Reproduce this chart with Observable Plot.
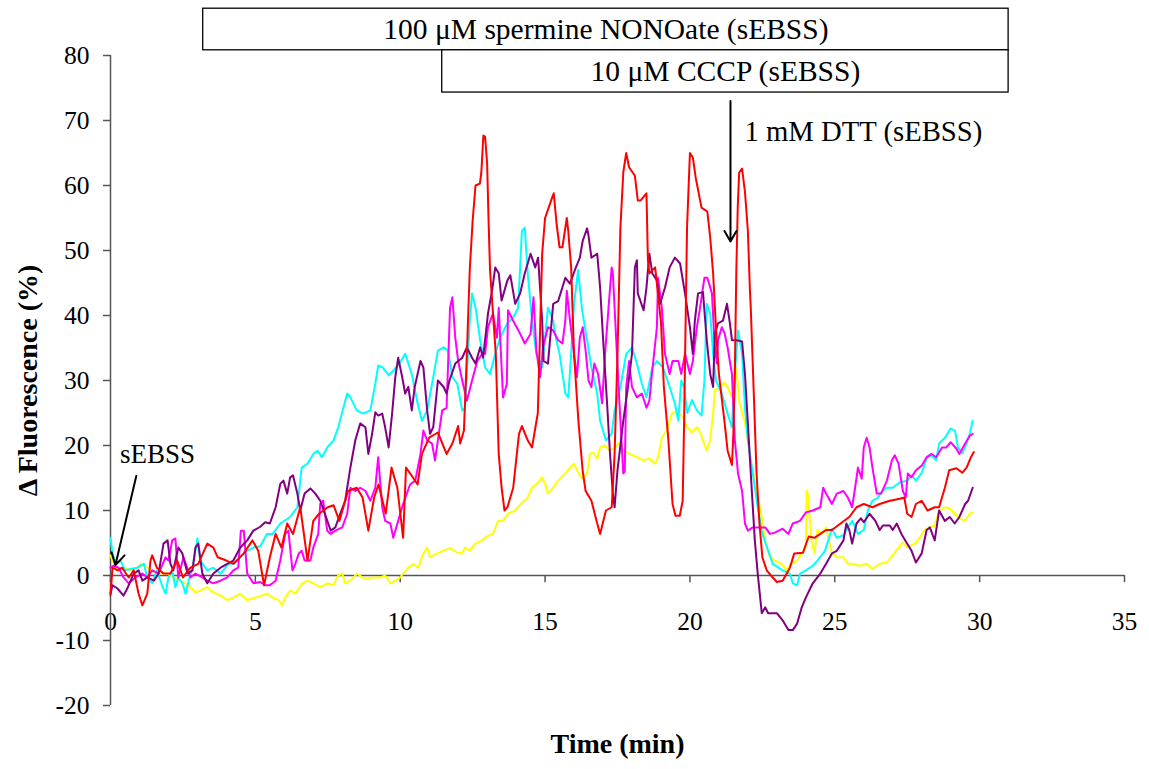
<!DOCTYPE html>
<html>
<head>
<meta charset="utf-8">
<script src="https://cdn.jsdelivr.net/npm/d3@7"></script>
<script src="https://cdn.jsdelivr.net/npm/@observablehq/plot@0.6"></script>
<style>
  html, body { margin: 0; padding: 0; background: #fff; }
  #chart svg { display: block; }
</style>
</head>
<body>
<div id="chart"></div>
<script>
// ---- Data (time in min, Δ fluorescence in %) ----
const red = [[0,-3],[0.07,1.2],[0.25,0.8],[0.4,1.2],[0.63,-0.3],[0.8,0.8],[0.97,-2.8],[1.1,-4.6],[1.27,-2.8],[1.38,2.3],[1.44,3.1],[1.6,1.2],[1.83,0.3],[2.07,0.3],[2.3,2.3],[2.5,-0.3],[2.76,1.2],[3.03,1.8],[3.34,4.9],[3.55,4.3],[3.7,2.8],[4.0,2.3],[4.25,1.8],[4.6,3.4],[4.9,5.4],[5.1,3.8],[5.3,-1.5],[5.5,2.8],[5.7,6.4],[5.9,4.3],[6.1,8],[6.3,6.4],[6.55,10.5],[6.8,2.3],[7.0,8.4],[7.2,9.5],[7.5,10.5],[7.7,10.8],[7.9,8.4],[8.2,13],[8.5,13.5],[8.7,12],[8.9,6.9],[9.1,12],[9.25,14],[9.5,9.5],[9.7,16.6],[9.9,13.5],[10.1,5.8],[10.2,16.6],[10.45,15],[10.6,14],[10.75,18.7],[11.0,21.2],[11.3,22],[11.6,18.7],[11.8,20.3],[12.0,23],[12.07,20.3],[12.2,22.3],[12.3,34],[12.4,47],[12.5,54.6],[12.6,60],[12.75,60.3],[12.8,62],[12.87,67.7],[12.93,67.5],[13.0,63.4],[13.05,54.6],[13.1,47],[13.3,34],[13.4,18.7],[13.5,13.5],[13.6,10],[13.7,10.5],[13.9,13.5],[14.1,21.8],[14.2,23],[14.4,20.8],[14.55,19.7],[14.75,25],[14.9,49.5],[15.0,55],[15.25,58.2],[15.3,58.8],[15.4,54],[15.5,50.5],[15.6,50.5],[15.75,55],[15.8,53],[15.9,47.4],[16.0,34],[16.15,23.8],[16.3,16],[16.4,13],[16.6,11.5],[16.8,8],[16.9,6.4],[17.1,10],[17.3,10.5],[17.4,18.7],[17.5,34],[17.6,53.5],[17.7,62],[17.8,65],[17.9,62.8],[18.1,61.5],[18.2,57.7],[18.3,57.7],[18.5,58.8],[18.55,48.5],[18.6,46.5],[18.8,47.4],[19.0,39],[19.1,29],[19.25,21.2],[19.4,11],[19.5,9.2],[19.65,9.2],[19.75,11.5],[19.8,23.8],[19.9,53.5],[20.0,65],[20.1,64.3],[20.2,61.2],[20.4,56.6],[20.6,56],[20.7,52],[20.8,46.5],[20.9,38],[21.0,31],[21.2,23.4],[21.3,19.2],[21.45,17],[21.5,21.8],[21.55,31],[21.6,46.5],[21.65,56.6],[21.7,62],[21.8,62.6],[21.9,59],[22.0,53],[22.07,44],[22.1,41.2],[22.2,28.5],[22.3,15.7],[22.4,8],[22.5,2.8],[22.65,0.8],[22.8,0],[23.0,-1],[23.2,-0.8],[23.45,1.2],[23.6,3.4],[23.9,3.5],[24.1,6],[24.3,5.8],[24.5,6.4],[24.7,7],[24.9,7],[25.2,8],[25.5,9],[25.75,10.5],[26.0,11],[26.3,10.5],[26.55,11],[26.9,11.5],[27.25,11.8],[27.4,12],[27.5,9.5],[27.65,9],[27.8,11],[28.0,11.5],[28.2,10],[28.45,10.5],[28.6,10.5],[28.8,13.5],[28.95,16.2],[29.2,16.5],[29.4,15.8],[29.55,16.6],[29.7,18.2],[29.8,19]];

const cyan = [[0,5.8],[0.07,3.4],[0.17,1.8],[0.35,2.3],[0.5,0.8],[0.7,1],[0.93,1.2],[1.15,1.8],[1.27,-0.3],[1.44,-1.2],[1.6,0.8],[1.8,-1.8],[1.9,-2.8],[2.0,-0.3],[2.13,0.8],[2.24,-1.8],[2.34,-0.3],[2.48,-1.2],[2.59,-2.8],[2.7,-0.8],[2.86,1.8],[3.0,5.7],[3.1,2.3],[3.34,0.8],[3.55,1.2],[3.8,0.3],[4.07,1.8],[4.25,1.8],[4.48,2.8],[4.72,3.8],[4.93,4.3],[5.17,4.5],[5.4,6.4],[5.6,6.4],[5.86,8],[6.2,9],[6.45,10.5],[6.6,16.6],[6.8,17.2],[7.0,18.7],[7.14,19.2],[7.3,18.2],[7.48,19.7],[7.7,20.8],[7.86,22.8],[8.17,28],[8.28,27.4],[8.5,25.4],[8.72,24.9],[8.97,25.4],[9.14,29.5],[9.24,32.3],[9.4,32],[9.6,30.8],[9.76,31.5],[10.0,32.8],[10.17,34.1],[10.4,31],[10.6,26.5],[10.75,23.8],[10.93,25.4],[11.14,30.5],[11.3,34.6],[11.5,35.1],[11.65,34.6],[11.8,30.5],[11.97,29.5],[12.14,25.4],[12.24,25.8],[12.4,39.2],[12.48,43.4],[12.6,41.2],[12.76,36.2],[12.93,32],[13.1,31],[13.28,34.1],[13.45,36.6],[13.7,38.8],[13.9,39.7],[14.07,41.2],[14.2,53],[14.3,53.5],[14.4,46.5],[14.55,39.2],[14.7,34.1],[14.9,32],[15.0,36.6],[15.1,41.2],[15.28,39.2],[15.4,36],[15.5,34.1],[15.7,28],[15.8,27.4],[15.9,34.1],[16.0,41.8],[16.14,47],[16.28,40.8],[16.45,36.2],[16.6,32],[16.8,28],[16.9,23.8],[17.1,20.8],[17.3,21.8],[17.4,25.4],[17.6,29],[17.8,34.1],[18.0,35.1],[18.17,32.6],[18.34,29.5],[18.5,27.4],[18.7,32],[18.86,33],[19.07,32],[19.3,29],[19.48,26.5],[19.6,23.8],[19.7,30],[19.8,29],[19.9,25],[20.07,27],[20.24,25.4],[20.4,24.6],[20.5,30],[20.58,41.8],[20.7,40.3],[20.8,34.1],[20.9,30],[21.1,28],[21.3,24.9],[21.45,22.8],[21.55,31],[21.66,37.7],[21.8,34.1],[21.9,25.8],[22.0,20.8],[22.17,15.7],[22.34,10.5],[22.5,6.4],[22.7,3.8],[22.86,1.8],[23.2,0.8],[23.45,0.3],[23.55,-1.2],[23.7,-1.5],[23.8,0.3],[24.0,0.8],[24.24,1.5],[24.4,2.3],[24.66,3.8],[24.9,7.2],[25.07,5.8],[25.3,6.2],[25.45,7.4],[25.6,8.4],[25.8,6.4],[26.0,7],[26.14,10],[26.3,11.5],[26.5,12],[26.6,12.8],[26.8,13.5],[27.0,13.5],[27.24,14.3],[27.5,14.6],[27.65,15.4],[27.8,14.6],[28.0,15.8],[28.17,18],[28.34,18.5],[28.5,17.7],[28.6,20.3],[28.8,21.2],[29.0,22.6],[29.15,22.3],[29.25,19.7],[29.4,18.8],[29.55,20.3],[29.66,21.8],[29.76,23.8]];

const purple = [[0,-2.8],[0.07,-1.5],[0.24,-2],[0.45,-3.1],[0.6,-1.8],[0.8,0.3],[0.97,0.8],[1.1,-0.8],[1.27,-0.3],[1.5,-0.8],[1.66,0.3],[1.83,4.9],[1.97,5.4],[2.07,1.8],[2.17,0.8],[2.34,4.3],[2.48,3.4],[2.66,0.3],[2.83,0.8],[2.93,4.3],[3.03,4.9],[3.17,0.3],[3.34,-1.2],[3.55,0.3],[3.8,1.2],[4.03,1.8],[4.24,2.3],[4.48,4.3],[4.72,5.4],[4.93,6.9],[5.17,7.5],[5.34,8.2],[5.5,8],[5.7,10.5],[5.86,14.1],[5.97,14.6],[6.1,12.6],[6.2,15.1],[6.3,15.4],[6.45,12.6],[6.55,10],[6.7,12.6],[6.9,13.4],[7.07,12.6],[7.24,11.5],[7.4,9.5],[7.6,6.9],[7.76,7.4],[7.93,9.5],[8.1,11.5],[8.28,16.6],[8.45,20.8],[8.62,23.4],[8.8,22.8],[8.9,18.7],[9.03,21.8],[9.14,25.1],[9.24,24.6],[9.38,24.9],[9.48,22.8],[9.6,19.7],[9.72,24.9],[9.83,30.5],[9.93,33.5],[10.07,30.5],[10.17,28],[10.28,29],[10.4,25.4],[10.5,29],[10.7,33],[10.8,32],[10.93,25.4],[11.03,21.8],[11.14,22.8],[11.3,30],[11.5,29],[11.6,28],[11.7,30],[11.9,32.6],[12.14,33.5],[12.3,35.1],[12.48,33.5],[12.6,32.6],[12.76,35.1],[12.86,33.5],[13.03,40.3],[13.17,43.8],[13.28,47.4],[13.4,46.5],[13.5,42.3],[13.7,45.4],[13.8,46.2],[13.97,41.8],[14.14,43.4],[14.3,46.5],[14.5,49.5],[14.66,47.4],[14.76,48.9],[14.9,39.2],[14.95,33],[15.1,32.6],[15.28,41.8],[15.45,42.2],[15.7,45.8],[15.86,44.9],[16.03,47],[16.2,48.9],[16.3,51.5],[16.45,53.4],[16.5,52.3],[16.6,48.9],[16.8,49.5],[16.9,44.3],[17.0,36.6],[17.14,26.5],[17.24,18.8],[17.34,12.6],[17.4,10.5],[17.5,16.2],[17.7,23.8],[17.86,29],[18.0,34.1],[18.1,47.4],[18.17,48.5],[18.2,43.4],[18.4,40.8],[18.5,44.3],[18.6,49.5],[18.7,46.5],[18.86,45.4],[18.97,41.8],[19.14,44.3],[19.3,47.4],[19.48,48.9],[19.66,48],[19.83,43.4],[20.0,38.2],[20.1,34.1],[20.17,39.2],[20.28,43.4],[20.45,43.6],[20.58,36.2],[20.7,31],[20.8,29],[20.86,37.2],[20.97,38.8],[21.14,39.2],[21.28,41.8],[21.38,38.8],[21.45,36.2],[21.6,36.2],[21.8,36],[21.9,31],[22.0,23.4],[22.1,15.7],[22.24,5.4],[22.34,0.3],[22.48,-5.8],[22.6,-4.9],[22.7,-5.8],[23.0,-5.8],[23.2,-6.9],[23.4,-8.4],[23.55,-8.4],[23.7,-7.4],[23.86,-4.9],[24.0,-3.4],[24.24,-1.2],[24.5,0.3],[24.7,1.8],[24.9,3.4],[25.07,3.8],[25.3,5.4],[25.4,8],[25.5,7],[25.6,4.9],[25.75,8],[25.9,8.8],[26.0,8.2],[26.2,9.5],[26.4,8.4],[26.55,7],[26.66,7.7],[26.9,7.7],[27.0,7],[27.14,8],[27.3,6.4],[27.5,4.9],[27.65,3.8],[27.8,2],[28.0,3.4],[28.17,7],[28.28,7.4],[28.45,5.4],[28.6,10],[28.8,8.4],[28.97,9],[29.14,8],[29.3,9],[29.5,11],[29.6,11.5],[29.76,13.5]];

const magenta = [[0,1.2],[0.1,1.5],[0.28,1.2],[0.45,-0.3],[0.63,-1.2],[0.86,-0.3],[1.1,0.3],[1.27,-0.3],[1.44,0.8],[1.66,0.3],[1.9,2.8],[2.0,2.3],[2.13,5.4],[2.24,5.7],[2.34,-0.3],[2.52,2.8],[2.76,-0.3],[2.93,0.3],[3.17,-0.3],[3.34,-0.8],[3.55,-1.2],[3.8,-0.8],[4.03,-0.3],[4.24,0.8],[4.41,1.2],[4.5,6.9],[4.6,6.9],[4.72,0.3],[4.93,-1.2],[5.17,-1],[5.34,-1.5],[5.5,-1.5],[5.7,-0.8],[5.86,2.3],[6.03,6.4],[6.14,6.9],[6.28,0.8],[6.38,1.8],[6.5,3.4],[6.6,3.8],[6.7,2.3],[6.9,2.3],[7.0,4.3],[7.17,6.4],[7.24,11],[7.34,11.5],[7.48,6.9],[7.6,6.4],[7.76,6.9],[8.0,7.4],[8.17,9.5],[8.28,13.5],[8.45,13],[8.62,13.5],[8.8,13],[8.97,11.5],[9.14,13.5],[9.24,18.2],[9.38,10.5],[9.48,8.4],[9.66,8],[9.76,5.8],[9.93,8.4],[10.1,11],[10.34,14],[10.52,14.6],[10.7,18.7],[10.8,22.3],[10.93,20.8],[11.1,20.3],[11.2,17.7],[11.3,20.8],[11.45,25.4],[11.6,25.8],[11.72,41.2],[11.8,42.8],[11.9,36.6],[12.0,33],[12.14,30],[12.3,26.9],[12.48,30],[12.66,33],[12.83,34.1],[12.93,34.1],[13.03,38.2],[13.2,40.3],[13.34,36.6],[13.4,41.2],[13.5,32],[13.55,27.4],[13.68,29.5],[13.72,40.8],[13.9,39.2],[14.14,37.2],[14.3,35.7],[14.5,37.2],[14.6,42.8],[14.7,34.6],[14.83,30.5],[14.93,35.1],[15.1,38.2],[15.28,37.7],[15.45,36.2],[15.6,35.7],[15.7,39.2],[15.75,43.8],[15.86,39.2],[16.0,34.1],[16.1,30.5],[16.2,36.6],[16.3,38.2],[16.4,34.6],[16.5,30],[16.6,29],[16.7,32.6],[16.83,31],[16.97,26.5],[17.07,34.1],[17.2,41.8],[17.3,47.4],[17.34,46.5],[17.48,34.1],[17.6,23.8],[17.7,15.7],[17.75,16],[17.8,29],[17.9,33],[18.0,29],[18.17,27.4],[18.34,28],[18.5,25.8],[18.6,26.9],[18.7,31.5],[18.86,38.2],[18.9,45.8],[19.03,41.2],[19.14,34.1],[19.3,31],[19.4,33],[19.6,33],[19.7,31],[19.83,34.1],[20.0,31],[20.1,33],[20.24,38.2],[20.35,41.2],[20.5,45.8],[20.6,45.8],[20.76,43.4],[20.86,35.1],[20.93,32.6],[20.97,36.2],[21.1,38.2],[21.2,37.2],[21.3,35.1],[21.45,31],[21.55,20.8],[21.66,15.7],[21.8,13],[21.9,8],[22.0,6.9],[22.17,7.4],[22.4,7.4],[22.6,7.4],[22.76,6.4],[22.93,6.6],[23.2,7.2],[23.4,6.4],[23.55,8],[23.8,8.4],[24.0,9.7],[24.24,10],[24.5,10.5],[24.6,13.5],[24.7,12.6],[24.9,11],[25.07,12.6],[25.3,13],[25.45,12],[25.6,10.5],[25.75,15],[25.8,16.6],[25.93,14.9],[26.0,19.7],[26.1,21.2],[26.2,19.7],[26.3,16.6],[26.45,12.6],[26.6,12.6],[26.8,14.6],[26.97,17.7],[27.07,18.5],[27.2,17.2],[27.35,13],[27.45,12],[27.52,15.7],[27.65,15.1],[27.8,16.2],[28.0,16.9],[28.17,18.2],[28.34,18.7],[28.5,18.2],[28.7,19.7],[28.85,19.7],[29.0,20.5],[29.2,19.5],[29.3,18.7],[29.5,20.3],[29.66,21.5],[29.76,21.8]];

const yellow = [[0,3.1],[0.07,2.3],[0.24,0.8],[0.45,1.2],[0.7,0.8],[0.93,1.2],[1.03,1.8],[1.27,1.2],[1.5,0.5],[1.72,0.3],[1.97,0.3],[2.17,-0.3],[2.41,-0.8],[2.59,-1.2],[2.76,-1.8],[2.93,-2.6],[3.1,-2.3],[3.34,-1.8],[3.55,-2.6],[3.8,-3.1],[4.03,-3.8],[4.24,-3.4],[4.48,-2.8],[4.72,-3.8],[4.93,-3.5],[5.17,-3.2],[5.4,-2.8],[5.6,-3.4],[5.8,-3.8],[5.93,-4.6],[6.03,-3.4],[6.2,-2.3],[6.38,-2.8],[6.62,-1.2],[6.79,-0.8],[7.0,-1.2],[7.24,-1.8],[7.48,-1.2],[7.69,-1.5],[7.86,0],[8.0,0.3],[8.1,-1.2],[8.28,-0.8],[8.52,0.3],[8.69,-0.3],[8.86,-0.5],[9.07,-0.3],[9.31,-0.3],[9.48,0],[9.66,-1.2],[9.83,-0.8],[10.0,-0.3],[10.1,0.3],[10.28,1.2],[10.45,1.8],[10.62,1.2],[10.8,3.4],[10.93,4.3],[11.03,2.8],[11.28,3.4],[11.48,3.8],[11.72,4.2],[11.97,3.5],[12.14,3.4],[12.24,4.3],[12.4,3.8],[12.59,4.9],[12.83,5.4],[13.03,6.1],[13.2,6.4],[13.38,8.4],[13.55,8.4],[13.72,9.5],[13.97,10],[14.2,11.2],[14.38,11.8],[14.55,13.5],[14.72,14.1],[14.9,15.1],[15.0,14.1],[15.1,12.6],[15.28,13.5],[15.45,14.6],[15.7,15.7],[15.86,16.6],[16.0,17.2],[16.1,16.2],[16.28,14.9],[16.45,15.7],[16.55,18.7],[16.66,18.9],[16.8,18],[16.9,19.7],[17.07,20],[17.24,19.2],[17.4,19.7],[17.6,20.5],[17.7,19.2],[17.93,18.7],[18.17,18.2],[18.38,17.7],[18.6,18],[18.8,17.2],[18.9,18.2],[19.03,21.2],[19.2,22.3],[19.38,24.9],[19.48,25.1],[19.66,24.9],[19.76,24.3],[19.9,22.8],[20.07,22],[20.24,22.8],[20.35,22],[20.45,20.8],[20.58,19.2],[20.7,20.8],[20.8,24.9],[20.86,28.5],[21.0,28.8],[21.2,29.7],[21.3,29],[21.45,27.4],[21.55,30],[21.6,32],[21.7,26.9],[21.9,23.4],[22.0,20.8],[22.1,17.7],[22.3,13],[22.48,9],[22.6,5.4],[22.76,2.8],[22.93,2.3],[23.17,1.8],[23.34,0.8],[23.5,1.8],[23.7,2.3],[23.86,3.4],[24.0,4.3],[24.03,13],[24.07,12.6],[24.2,5.4],[24.3,3.4],[24.4,7],[24.55,6.4],[24.7,7.4],[24.8,5.4],[24.9,3.4],[25.1,2.8],[25.3,2.8],[25.45,1.8],[25.6,1.8],[25.86,1.5],[26.1,1.8],[26.3,1],[26.55,1.8],[26.8,2],[27.0,3.1],[27.2,4.3],[27.35,5.1],[27.5,4.3],[27.76,4.9],[27.93,5.8],[28.1,7],[28.28,7.4],[28.45,7.7],[28.6,10],[28.8,10.5],[28.97,10.3],[29.14,9.5],[29.3,8.8],[29.5,8.4],[29.66,9.5],[29.76,9.7]];

const xTicks = [0, 5, 10, 15, 20, 25, 30, 35];
const yTicks = [-20, -10, 0, 10, 20, 30, 40, 50, 60, 70, 80];

// treatment periods (min)
const treatmentLabels = ["100 μM spermine NONOate (sEBSS)", "10 μM CCCP (sEBSS)"];
const treatmentStart = [3.2, 11.45];
const treatmentEnd = [31, 31];
const dttTime = [21.4];
const dttLabel = "1 mM DTT (sEBSS)";
const sebssTime = [0.17];
const sebssLabel = "sEBSS";

// ---- Build ----
const seriesList = [
  {name: "yellow", color: "#FFFF00", data: yellow},
  {name: "cyan", color: "#00FFFF", data: cyan},
  {name: "magenta", color: "#FF00FF", data: magenta},
  {name: "purple", color: "#800080", data: purple},
  {name: "red", color: "#FF0000", data: red}
];

// layout levels for boxes (in y units above the frame)
const boxLevels = [[80.8, 87.2], [74.3, 80.8]];
const boxes = treatmentLabels.map((label, i) => ({
  label, x1: treatmentStart[i], x2: treatmentEnd[i], y1: boxLevels[i][0], y2: boxLevels[i][1]
}));

const font = "'Liberation Serif', 'Times New Roman', serif";

const marks = [
  Plot.ruleY([0], {stroke: "#555", strokeWidth: 1.5}),
  Plot.ruleX(xTicks, {x: d => d, y1: 0, y2: -1.1, stroke: "#555", strokeWidth: 1.5}),
  Plot.text(xTicks, {x: d => d, y: 0, dy: 46, text: d => String(d), fontSize: 25.5, fill: "#000"}),
  Plot.ruleX([0], {stroke: "#555", strokeWidth: 1.5}),
  Plot.axisY({ticks: yTicks, tickSize: 7, tickPadding: 14, tickFormat: d => String(d), label: null, fontSize: 25.5, stroke: "#555", strokeWidth: 1.5, fill: "#000"}),
  ...seriesList.map(s => Plot.line(s.data, {x: d => d[0], y: d => d[1], stroke: s.color, strokeWidth: 2})),
  Plot.rect(boxes, {x1: "x1", x2: "x2", y1: "y1", y2: "y2", fill: "white", stroke: "black", strokeWidth: 1.3}),
  Plot.text(boxes, {x: d => (d.x1 + d.x2) / 2, y: d => (d.y1 + d.y2) / 2, text: "label", fontSize: 29.5, fill: "#000"}),
  Plot.arrow(dttTime, {x1: d => d, x2: d => d, y1: 73, y2: 51.4, stroke: "black", strokeWidth: 2, headLength: 9}),
  Plot.text([dttLabel], {x: dttTime[0], y: 68.3, dx: 14, text: d => d, textAnchor: "start", fontSize: 28.7, fill: "#000"}),
  Plot.text([sebssLabel], {x: sebssTime[0] + 1.45, y: 18.7, text: d => d, fontSize: 27, fill: "#000"}),
  Plot.arrow(sebssTime, {x1: d => d + 0.72, y1: 15.3, x2: d => d, y2: 1.6, stroke: "black", strokeWidth: 2, headLength: 10}),
  Plot.text(["Time (min)"], {frameAnchor: "bottom", dy: 47, text: d => d, fontSize: 28, fontWeight: "bold", fill: "#000"}),
  Plot.text(["Δ Fluorescence (%)"], {frameAnchor: "left", textAnchor: "middle", dx: -82, rotate: -90, text: d => d, fontSize: 28, fontWeight: "bold", fill: "#000"})
];

const chart = Plot.plot({
  width: 1149,
  height: 769,
  marginLeft: 110,
  marginRight: 25,
  marginTop: 55,
  marginBottom: 64,
  x: {domain: [0, 35], axis: null},
  y: {domain: [-20, 80], axis: null},
  style: {fontFamily: font, background: "white", color: "black", overflow: "visible"},
  marks
});
document.getElementById("chart").appendChild(chart);
</script>
</body>
</html>
